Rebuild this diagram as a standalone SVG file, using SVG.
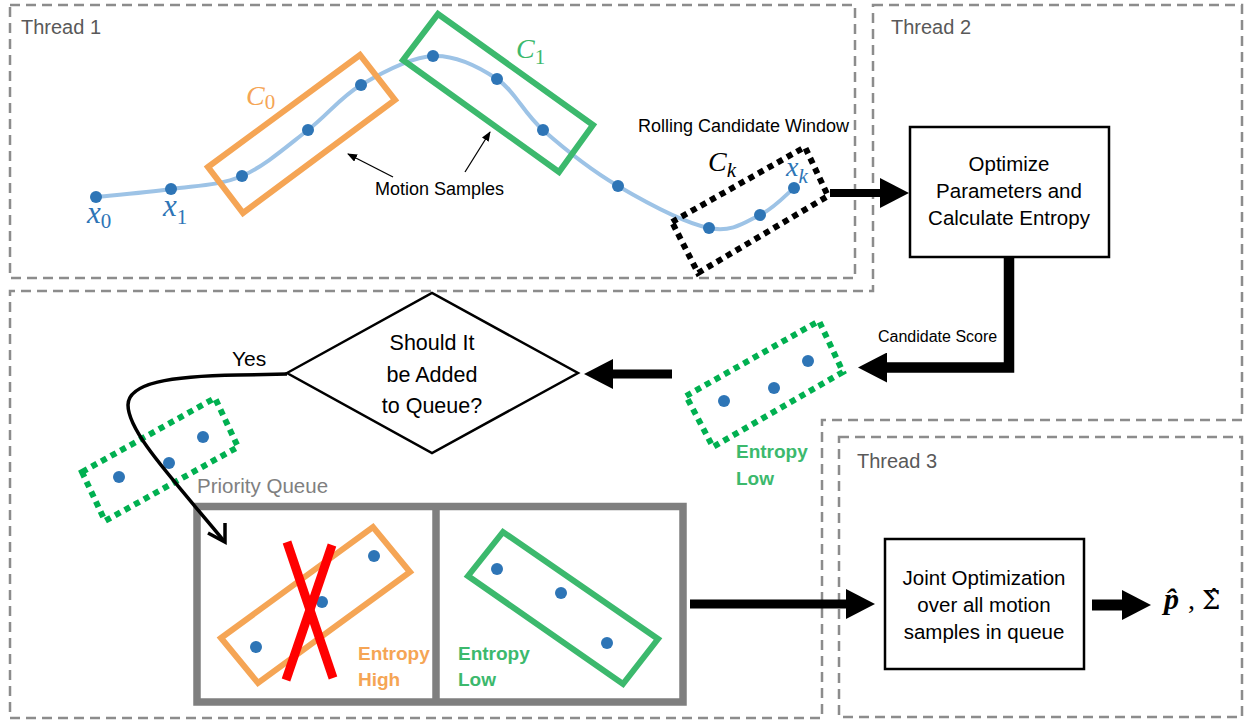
<svg xmlns="http://www.w3.org/2000/svg" width="1248" height="722" viewBox="0 0 1248 722">
<style>
.frame{fill:none;stroke:#8c8c8c;stroke-width:2.5;stroke-dasharray:10 6}
.lbl{font-family:"Liberation Sans",Arial,sans-serif;fill:#595959;font-size:20px}
.txt{font-family:"Liberation Sans",Arial,sans-serif;fill:#000}
.math{font-family:"Liberation Serif","DejaVu Serif",serif;font-style:italic}
.dot{fill:#2e75b6}
.orange{fill:none;stroke:#f5a555;stroke-width:6}
.green{fill:none;stroke:#3cb96d;stroke-width:6}
.gdot{fill:none;stroke:#00b050;stroke-width:6;stroke-dasharray:6 5}
.kdot{fill:none;stroke:#000;stroke-width:6;stroke-dasharray:6 5}
.box{fill:#fff;stroke:#000;stroke-width:2.5}
.thick{fill:none;stroke:#000;stroke-linejoin:miter}
.ent{font-family:"Liberation Sans",Arial,sans-serif;font-weight:bold;font-size:19px}
</style>
<defs>
<marker id="big" viewBox="0 0 30 30" markerUnits="userSpaceOnUse" markerWidth="30" markerHeight="30" refX="1" refY="15" orient="auto">
<path d="M0,0 L29,15 L0,30 z" fill="#000"/>
</marker>
<marker id="small" viewBox="0 0 10 8" markerUnits="userSpaceOnUse" markerWidth="10" markerHeight="8" refX="9" refY="4" orient="auto">
<path d="M0,0 L10,4 L0,8 z" fill="#000"/>
</marker>
</defs>

<g id="thread1">
<rect class="frame" x="10" y="5" width="845" height="273"/>
<text class="lbl" x="21" y="34">Thread 1</text>
</g>
<g id="thread2">
<path class="frame" d="M873,5 L1242,5 L1242,420 L822,420 L822,718 L10,718 L10,291 L873,291 Z"/>
<text class="lbl" x="891" y="34">Thread 2</text>
</g>
<g id="thread3">
<rect class="frame" x="839" y="437" width="403" height="280"/>
<text class="lbl" x="857" y="468">Thread 3</text>
</g>

<g id="trajectory">
<path d="M96,197 C108.5,195.7 146.7,192.5 171,189 C195.3,185.5 219.2,185.8 242,176 C264.8,166.2 288.2,145.2 308,130 C327.8,114.8 340.2,97.3 361,85 C381.8,72.7 410.3,57 433,56 C455.7,55 478.7,66.7 497,79 C515.3,91.3 522.8,112.2 543,130 C563.2,147.8 590.3,169.7 618,186 C645.7,202.3 685.3,223.2 709,228 C732.7,232.8 745.8,221.7 760,215 C774.2,208.3 788.3,192.5 794,188" fill="none" stroke="#9dc3e6" stroke-width="4"/>
<circle class="dot" cx="96" cy="197" r="6"/>
<circle class="dot" cx="171" cy="189" r="6"/>
<circle class="dot" cx="242" cy="176" r="6"/>
<circle class="dot" cx="308" cy="130" r="6"/>
<circle class="dot" cx="361" cy="85" r="6"/>
<circle class="dot" cx="433" cy="56" r="6"/>
<circle class="dot" cx="497" cy="79" r="6"/>
<circle class="dot" cx="543" cy="130" r="6"/>
<circle class="dot" cx="618" cy="186" r="6"/>
<circle class="dot" cx="709" cy="228" r="6"/>
<circle class="dot" cx="760" cy="215" r="6"/>
<circle class="dot" cx="794" cy="188" r="6"/>
<text class="math" x="87" y="223" font-size="31" fill="#2e75b6">x<tspan font-style="normal" font-size="21" dy="5">0</tspan></text>
<text class="math" x="163" y="216" font-size="31" fill="#2e75b6">x<tspan font-style="normal" font-size="21" dy="8">1</tspan></text>
<text class="math" x="786" y="176" font-size="28" fill="#2e75b6">x<tspan font-size="21" dy="7">k</tspan></text>
</g>

<g id="C0">
<polygon class="orange" points="208,167 360,55 395,100 243,213"/>
<text class="math" x="246" y="105" font-size="28" fill="#f5a555">C<tspan font-style="normal" font-size="21" dy="4">0</tspan></text>
</g>
<g id="C1">
<polygon class="green" points="438,14 593,125 559,172 403,60"/>
<text class="math" x="516" y="58" font-size="28" fill="#3cb96d">C<tspan font-style="normal" font-size="21" dy="6">1</tspan></text>
</g>
<g id="Ck">
<polygon class="kdot" points="672,222 805,147 828,196 698,273"/>
<text class="math" x="708" y="171" font-size="28" fill="#000">C<tspan font-size="21" dy="6">k</tspan></text>
<text class="txt" x="638" y="132" font-size="18">Rolling Candidate Window</text>
</g>

<g id="motion-samples">
<text class="txt" x="375" y="195" font-size="18">Motion Samples</text>
</g>

<g id="optimize">
<rect class="box" x="910" y="127" width="199" height="130"/>
<text class="txt" font-size="20.5" text-anchor="middle"><tspan x="1009" y="171">Optimize</tspan><tspan x="1009" y="198">Parameters and</tspan><tspan x="1009" y="225">Calculate Entropy</tspan></text>
</g>

<g id="candidate">
<polygon class="gdot" points="686,396 819,321 843,372 713,447"/>
<circle class="dot" cx="724" cy="401" r="6"/>
<circle class="dot" cx="774" cy="388" r="6"/>
<circle class="dot" cx="808" cy="361" r="6"/>
<text class="ent" fill="#3cb96d"><tspan x="736" y="458">Entropy</tspan><tspan x="736" y="485">Low</tspan></text>
</g>

<g id="decision">
<polygon points="287,373 432,293 578,373 432,453" fill="#fff" stroke="#000" stroke-width="2.5"/>
<text class="txt" font-size="21.5" text-anchor="middle"><tspan x="432" y="350">Should It</tspan><tspan x="432" y="382">be Added</tspan><tspan x="432" y="413">to Queue?</tspan></text>
</g>

<g id="added">
<polygon class="gdot" points="82,472 215,398 238,447 105,521"/>
<circle class="dot" cx="119" cy="477" r="6"/>
<circle class="dot" cx="169" cy="463" r="6"/>
<circle class="dot" cx="203" cy="437" r="6"/>
</g>

<g id="queue">
<text x="197" y="493" font-family="Liberation Sans, Arial, sans-serif" font-size="20.5" fill="#808080">Priority Queue</text>
<rect x="197" y="506.5" width="486" height="195.5" fill="none" stroke="#7f7f7f" stroke-width="7.5"/>
<line x1="436" y1="506" x2="436" y2="702" stroke="#7f7f7f" stroke-width="7.5"/>
<polygon class="orange" points="221,638 373,527 410,572 258,683"/>
<circle class="dot" cx="256" cy="647" r="6"/>
<circle class="dot" cx="322" cy="602" r="6"/>
<circle class="dot" cx="374" cy="556" r="6"/>
<line x1="287" y1="542" x2="333" y2="678" stroke="#ff0000" stroke-width="9"/>
<line x1="332" y1="545" x2="286" y2="680" stroke="#ff0000" stroke-width="9"/>
<text class="ent" fill="#f5a555"><tspan x="358" y="660">Entropy</tspan><tspan x="358" y="686">High</tspan></text>
<polygon class="green" points="468,576 503,532 658,639 623,684"/>
<circle class="dot" cx="497" cy="569" r="6"/>
<circle class="dot" cx="561" cy="593" r="6"/>
<circle class="dot" cx="607" cy="643" r="6"/>
<text class="ent" fill="#3cb96d"><tspan x="458" y="660">Entropy</tspan><tspan x="458" y="686">Low</tspan></text>
</g>

<g id="joint">
<rect class="box" x="885" y="539" width="199" height="130"/>
<text class="txt" font-size="20.5" text-anchor="middle"><tspan x="984" y="585">Joint Optimization</tspan><tspan x="984" y="612">over all motion</tspan><tspan x="984" y="639">samples in queue</tspan></text>
</g>

<g id="output">
<text x="1164" y="609" font-family="Liberation Serif, DejaVu Serif, serif" font-size="30" font-weight="bold" font-style="italic">p̂</text>
<text x="1188" y="609" font-family="Liberation Serif, DejaVu Serif, serif" font-size="28">,</text>
<text x="1202" y="609" font-family="DejaVu Serif, serif" font-size="26">Σ̂</text>
</g>

<g id="connectors">
<line x1="393" y1="177" x2="348" y2="154" stroke="#000" stroke-width="1.3" marker-end="url(#small)"/>
<line x1="465" y1="172" x2="490" y2="132" stroke="#000" stroke-width="1.3" marker-end="url(#small)"/>
<line class="thick" x1="830" y1="193" x2="881" y2="193" stroke-width="8" marker-end="url(#big)"/>
<polyline class="thick" points="1009,257 1009,367.5 886,367.5" stroke-width="10.5" marker-end="url(#big)"/>
<text class="txt" x="878" y="342" font-size="16">Candidate Score</text>
<line class="thick" x1="672" y1="374" x2="612" y2="374" stroke-width="9" marker-end="url(#big)"/>
<path d="M287,374 L238,375 C170,376 128,383 128,405 C128,432 172,478 224,541" fill="none" stroke="#000" stroke-width="3.5"/>
<polyline points="208,533 225,542 225,523" fill="none" stroke="#000" stroke-width="3.5"/>
<text class="txt" x="232" y="366" font-size="21">Yes</text>
<line class="thick" x1="690" y1="604" x2="847" y2="604" stroke-width="9" marker-end="url(#big)"/>
<line class="thick" x1="1092" y1="605" x2="1123" y2="605" stroke-width="11" marker-end="url(#big)"/>
</g>
</svg>
